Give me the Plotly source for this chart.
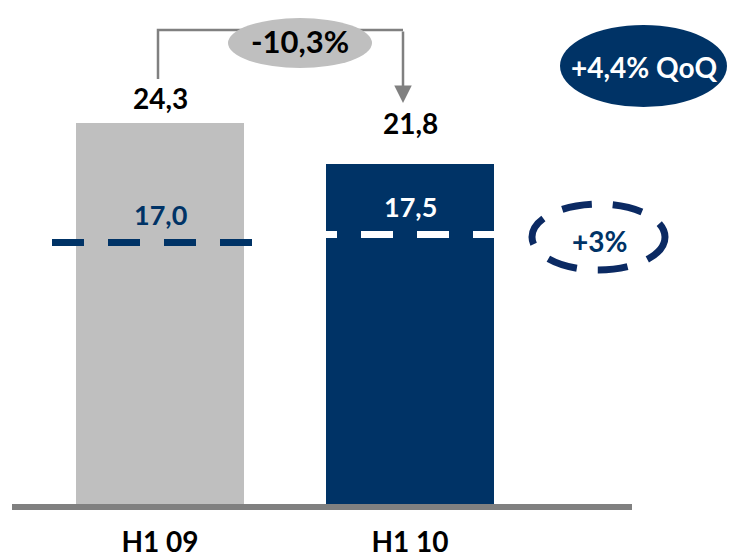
import plotly.graph_objects as go

# ---- data ----
periods = ["H1 09", "H1 10"]
totals = [24.3, 21.8]
averages = [17.0, 17.5]
change_label = "-10,3%"
qoq_label = "+4,4% QoQ"
avg_change_label = "+3%"

# ---- style ----
GRAY = "#BFBFBF"
NAVY = "#003366"
DARK_NAVY = "#0B2A63"
LINE_GRAY = "#808080"
FONT = "Lato"
W, H = 731, 560
PLOT_BOTTOM = 505  # pixel row of plot bottom


def fmt(v):
    return f"{v:.1f}".replace(".", ",")


def px(x):  # horizontal pixel -> paper
    return x / W


def py(y):  # vertical pixel -> paper
    return (PLOT_BOTTOM - y) / PLOT_BOTTOM


def cx(x):  # horizontal pixel -> category axis units
    return (x - 160) / 250


def text_ann(x, y, text, size, color):
    return dict(x=px(x), y=py(y), xref="paper", yref="paper",
                xanchor="center", yanchor="middle",
                text=f"<b>{text}</b>", showarrow=False,
                font=dict(family=FONT, size=size, color=color))


fig = go.Figure()
fig.add_trace(go.Bar(
    x=periods, y=totals, width=0.672,
    marker=dict(color=[GRAY, NAVY], line=dict(width=0)),
    hoverinfo="skip",
))

shapes = []
annotations = []

# baseline
shapes.append(dict(type="line", xref="paper", yref="paper",
                   x0=px(12), x1=px(632), y0=py(507), y1=py(507),
                   line=dict(color=LINE_GRAY, width=6)))

# average dashed lines
avg_line_spans = [(cx(52), cx(252)), (cx(305), cx(505))]
avg_line_colors = [NAVY, "white"]
avg_text_colors = [NAVY, "white"]
for i, (a, (x0, x1)) in enumerate(zip(averages, avg_line_spans)):
    shapes.append(dict(type="line", xref="x", yref="y", x0=x0, x1=x1, y0=a, y1=a,
                       line=dict(color=avg_line_colors[i], width=7, dash="32px,24px")))
    annotations.append(dict(x=i, y=a, xref="x", yref="y", yshift=28,
                            xanchor="center", yanchor="middle",
                            text=f"<b>{fmt(a)}</b>", showarrow=False,
                            font=dict(family=FONT, size=27, color=avg_text_colors[i])))

# total value labels
label_shift = [25, 41]
for i, v in enumerate(totals):
    annotations.append(dict(x=i, y=v, xref="x", yref="y", yshift=label_shift[i],
                            xanchor="center", yanchor="middle",
                            text=f"<b>{fmt(v)}</b>", showarrow=False,
                            font=dict(family=FONT, size=28, color="black")))

# bracket connector
shapes.append(dict(type="path", xref="paper", yref="paper",
                   path=f"M{px(158)},{py(79)} L{px(158)},{py(30)} L{px(403)},{py(30)}",
                   line=dict(color=LINE_GRAY, width=2.5)))
annotations.append(dict(x=px(403), y=py(103), xref="paper", yref="paper",
                        ax=0, ay=-73, text="", showarrow=True,
                        arrowhead=2, arrowsize=1.4, arrowwidth=2.5,
                        arrowcolor=LINE_GRAY, standoff=0))
shapes.append(dict(type="circle", xref="paper", yref="paper",
                   x0=px(228), x1=px(372), y0=py(68), y1=py(18),
                   fillcolor=GRAY, line=dict(width=0)))
annotations.append(text_ann(300, 41, change_label, 31, "black"))

# QoQ bubble
shapes.append(dict(type="circle", xref="paper", yref="paper",
                   x0=px(560), x1=px(727), y0=py(107), y1=py(25),
                   fillcolor=NAVY, line=dict(width=0)))
annotations.append(text_ann(644, 67, qoq_label, 28, "white"))

# dashed +3% ellipse
shapes.append(dict(type="circle", xref="paper", yref="paper",
                   x0=px(532), x1=px(665), y0=py(270), y1=py(204),
                   fillcolor="rgba(0,0,0,0)",
                   line=dict(color=DARK_NAVY, width=7, dash="30px,21px")))
annotations.append(text_ann(599, 241, avg_change_label, 28, NAVY))

fig.update_layout(
    width=W, height=H,
    margin=dict(l=0, r=0, t=0, b=H - PLOT_BOTTOM),
    paper_bgcolor="white", plot_bgcolor="white",
    showlegend=False,
    shapes=shapes, annotations=annotations,
    xaxis=dict(type="category", range=[cx(0), cx(W)], showgrid=False,
               zeroline=False, showline=False, ticks="", automargin=False,
               tickfont=dict(family=FONT, size=28, color="black"),
               ticklabelstandoff=18,
               tickvals=periods, ticktext=[f"<b>{p}</b>" for p in periods]),
    yaxis=dict(range=[1.0, 1.0 + PLOT_BOTTOM / 16.4], visible=False,
               automargin=False),
)

fig.write_html("out.html", config={"displayModeBar": False},
               post_script="document.body.style.margin='0';")
